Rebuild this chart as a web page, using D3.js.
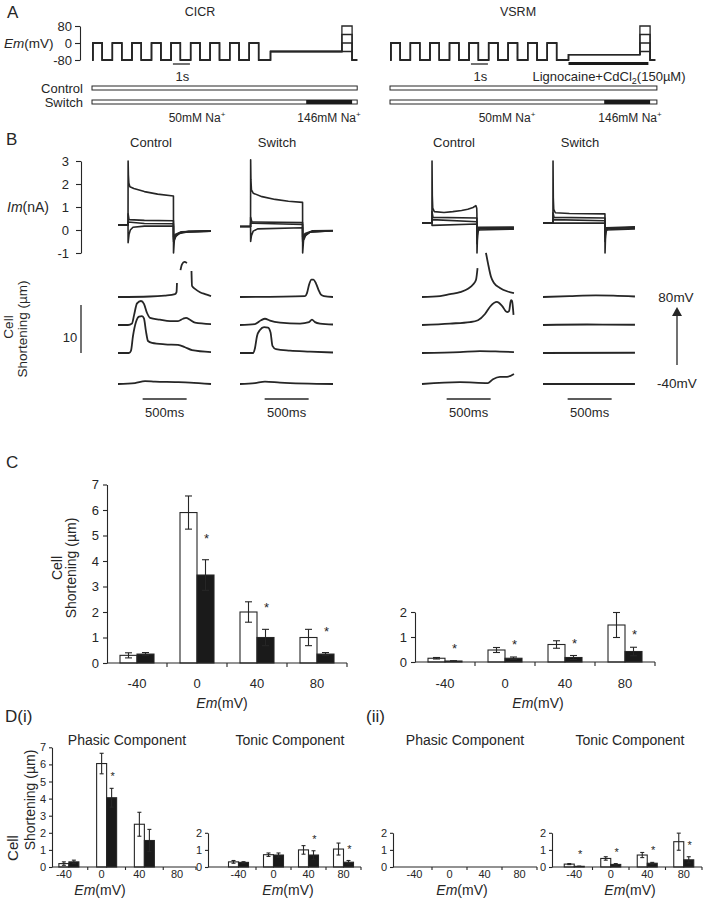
<!DOCTYPE html>
<html><head><meta charset="utf-8">
<script src="https://cdn.jsdelivr.net/npm/d3@7"></script>
<style>body{margin:0;background:#fff}</style>
</head><body><script>
// ================= DATA =================
// Panel A: stimulation protocol (time in s, Em in mV)
const condPulseOn = [0.05,1.2,2.35,3.5,4.65,5.8,6.95,8.1,9.25];
const condPulseDur = 0.55;
const protoTimes = [10.5, 14.7, 15.3, 15.6];      // hold start, test on, test off, end
const holdingEm = [-40, -55];                      // CICR, VSRM
const testEm = [-40, 0, 40, 80];
const emTicks = [-80, 0, 80];
const solutionBarEnd = [15.6, 15.7];
const switchWindow = [12.6, 15.3];
const drugWindow = [10.5, 15.2];
const oneSecond = [4.76, 5.76];

// Panel B: membrane currents (t in ms, I in nA)
const imTicks = [-1, 0, 1, 2, 3];
const cicrCtrlI = [
 [[0,0.22],[114,0.22],[115,3.0],[118,2.4],[123,2.05],[135,1.88],[180,1.8],[300,1.67],[450,1.56],[630,1.48],[631,-1.0],[640,-0.45],[660,-0.25],[700,-0.12],[800,-0.06],[1055,-0.05]],
 [[0,0.22],[114,0.22],[115,0.7],[125,0.45],[300,0.42],[630,0.4],[631,-0.5],[650,-0.3],[700,-0.15],[800,-0.07],[1055,-0.05]],
 [[0,0.22],[114,0.22],[115,0.35],[300,0.28],[630,0.27],[631,-0.4],[650,-0.25],[720,-0.1],[1055,-0.05]],
 [[0,0.22],[114,0.22],[115,-0.55],[125,-0.2],[140,0.0],[170,0.12],[300,0.17],[630,0.17],[631,-0.3],[650,-0.2],[720,-0.08],[1055,-0.04]]
];
const cicrSwI = [
 [[0,0.15],[120,0.15],[121,3.05],[124,2.2],[130,1.75],[150,1.6],[250,1.45],[400,1.33],[550,1.25],[711,1.2],[712,-1.0],[722,-0.45],[745,-0.25],[790,-0.1],[1057,-0.03]],
 [[0,0.15],[120,0.15],[121,0.55],[135,0.35],[711,0.32],[712,-0.5],[735,-0.25],[800,-0.08],[1057,-0.03]],
 [[0,0.15],[120,0.15],[121,0.3],[711,0.24],[712,-0.4],[740,-0.2],[820,-0.05],[1057,-0.03]],
 [[0,0.15],[120,0.15],[121,-0.5],[130,-0.25],[150,-0.05],[200,0.05],[711,0.1],[712,-0.3],[740,-0.15],[820,-0.04],[1057,-0.02]]
];
const vsrmCtrlI = [
 [[0,0.3],[113,0.3],[114,3.0],[117,1.5],[122,0.95],[140,0.8],[250,0.76],[350,0.8],[450,0.85],[520,0.9],[580,0.98],[612,1.06],[622,0.95],[624,0.7],[625,-1.0],[632,-0.1],[660,0.1],[1045,0.08]],
 [[0,0.3],[113,0.3],[114,0.8],[125,0.55],[624,0.52],[625,-0.6],[635,0.0],[1045,0.04]],
 [[0,0.3],[113,0.3],[114,0.45],[624,0.36],[625,-0.3],[640,0.05],[1045,0.1]],
 [[0,0.3],[113,0.3],[114,0.2],[624,0.26],[625,-0.2],[640,0.12],[1045,0.13]]
];
const vsrmSwI = [
 [[0,0.3],[113,0.3],[114,3.0],[117,1.4],[122,0.9],[140,0.75],[300,0.72],[704,0.7],[705,-1.0],[712,-0.1],[740,0.1],[1045,0.08]],
 [[0,0.3],[113,0.3],[114,0.75],[125,0.55],[704,0.52],[705,-0.5],[715,0.0],[1045,0.05]],
 [[0,0.3],[113,0.3],[114,0.45],[704,0.4],[705,-0.3],[720,0.05],[1045,0.12]],
 [[0,0.3],[113,0.3],[114,0.3],[704,0.3],[705,-0.2],[720,0.1],[1045,0.14]]
];

// Panel B: cell shortening (t in ms, shortening in µm), rows = +80, +40, 0, -40 mV
const cicrCtrlS = [
 [[0,0],[360,0.1],[530,0.3],[648,0.6],[665,1.0],[670,2.9],null,[710,5.6],[727,6.8],[755,7.3],[784,7.1],null,[835,5.4],[841,2.3],[875,1.7],[932,1.0],[989,0.6],[1057,0.2]],
 [[0,0],[114,0],[159,0.3],[182,2],[216,4.5],[261,5.0],[295,4.4],[330,2.5],[364,1.5],[477,1.1],[591,0.8],[682,0.8],[739,1.3],[773,1.5],[818,1.1],[875,0.5],[1057,0.2]],
 [[0,0],[125,0],[148,0.5],[170,3.5],[205,6.5],[239,7.6],[273,7.7],[295,7.2],[318,4.5],[341,2.5],[386,2.1],[534,1.8],[682,1.7],[761,1.2],[841,0.6],[1057,0.2]],
 [[0,0],[193,0.2],[307,0.6],[420,0.5],[648,0.4],[818,0.3],[1057,0]]
];
const cicrSwS = [
 [[0,0],[739,0.2],[761,0.8],[784,2.5],[812,3.6],[835,3.6],[864,2.8],[892,1.5],[920,0.5],[955,0.2],[1057,0]],
 [[0,0],[170,0.2],[239,1.0],[284,1.3],[341,0.9],[455,0.5],[682,0.3],[784,0.6],[818,1.1],[852,0.6],[909,0.3],[1057,0.1]],
 [[0,0],[148,0],[170,1.0],[193,3.5],[227,4.8],[273,5.4],[318,5.3],[347,4.3],[369,1.5],[409,0.8],[568,0.5],[795,0.3],[1057,0.1]],
 [[0,0],[170,0.2],[284,0.5],[455,0.3],[1057,0]]
];
const vsrmCtrlS = [
 [[0,0],[205,0.2],[318,0.6],[432,1.0],[523,1.7],[580,2.6],[614,3.6],[631,6.0],null,[727,9.2],[750,7.0],[784,4.2],[818,2.9],[886,1.9],[966,1.2],[1045,0.8]],
 [[0,0],[318,0.3],[545,0.6],[636,1.0],[716,2.3],[773,3.8],[852,4.8],[909,4.0],[966,2.7],[989,2.9],[1011,5.2],[1023,5.0],[1040,2.1]],
 [[0,0],[432,0.2],[659,0.4],[886,0.3],[1045,0.2]],
 [[0,0],[432,0.4],[750,0.2],[807,1.0],[886,1.5],[966,1.5],[1045,2.1]]
];
const vsrmSwS = [
 [[0,0],[300,0.2],[600,0.35],[800,0.3],[1045,0.1]],
 [[0,0],[500,0.1],[1045,0.05]],
 [[0,0],[1045,0.05]],
 [[0,0],[1045,0]]
];
const timeBar500 = [280, 780];

// Panel C & D: bar data
const emCats = ["-40", "0", "40", "80"];
const cTotalCICR = [0.3, 5.9, 2.0, 1.0];
const cTotalCICRErr = [0.1, 0.65, 0.4, 0.32];
const cTotalCICRSw = [0.35, 3.45, 1.0, 0.35];
const cTotalCICRSwErr = [0.06, 0.6, 0.32, 0.06];
const cTotalCICRSig = [false, true, true, true];

const cTotalVSRM = [0.15, 0.48, 0.7, 1.48];
const cTotalVSRMErr = [0.03, 0.1, 0.15, 0.5];
const cTotalVSRMSw = [0.04, 0.15, 0.18, 0.42];
const cTotalVSRMSwErr = [0.01, 0.05, 0.08, 0.17];
const cTotalVSRMSig = [true, true, true, true];

const dPhasicCICR = [0.2, 6.05, 2.5, 0];
const dPhasicCICRErr = [0.1, 0.6, 0.7, 0];
const dPhasicCICRSw = [0.3, 4.05, 1.55, 0];
const dPhasicCICRSwErr = [0.1, 0.55, 0.65, 0];
const dPhasicCICRSig = [false, true, false, false];

const dTonicCICR = [0.3, 0.72, 1.0, 1.05];
const dTonicCICRErr = [0.08, 0.1, 0.25, 0.35];
const dTonicCICRSw = [0.27, 0.7, 0.7, 0.28];
const dTonicCICRSwErr = [0.04, 0.12, 0.25, 0.1];
const dTonicCICRSig = [false, false, true, true];

const dPhasicVSRM = [0, 0, 0, 0];
const dPhasicVSRMErr = [0, 0, 0, 0];
const dPhasicVSRMSw = [0, 0, 0, 0];
const dPhasicVSRMSwErr = [0, 0, 0, 0];
const dPhasicVSRMSig = [false, false, false, false];

const dTonicVSRM = [0.17, 0.5, 0.7, 1.48];
const dTonicVSRMErr = [0.03, 0.1, 0.15, 0.5];
const dTonicVSRMSw = [0.04, 0.15, 0.22, 0.42];
const dTonicVSRMSwErr = [0.01, 0.05, 0.05, 0.18];
const dTonicVSRMSig = [true, true, true, true];

// ================= DRAWING =================
const FONT = '"Liberation Sans", Arial, Helvetica, sans-serif';
const INK = '#262626';
const svg = d3.select('body').append('svg').attr('width', 703).attr('height', 900)
  .style('font-family', FONT);
const plain = d => String(d);

function text(x, y, s, size, anchor = 'start', extra) {
  const t = svg.append('text').attr('x', x).attr('y', y).attr('font-size', size)
    .attr('text-anchor', anchor).attr('fill', INK).text(s);
  if (extra) extra(t);
  return t;
}
function emText(x, y, size, anchor = 'middle', name = 'Em', unit = '(mV)') {
  const t = svg.append('text').attr('x', x).attr('y', y).attr('font-size', size)
    .attr('text-anchor', anchor).attr('fill', INK);
  t.append('tspan').attr('font-style', 'italic').text(name);
  t.append('tspan').text(unit);
  return t;
}
function naText(x, y, conc) {
  const t = svg.append('text').attr('x', x).attr('y', y).attr('font-size', 12)
    .attr('text-anchor', 'middle').attr('fill', INK);
  t.append('tspan').text(conc + ' Na');
  t.append('tspan').attr('font-size', 8).attr('dy', -5).text('+');
}
function styleAxis(g, size) {
  g.attr('font-family', FONT).attr('font-size', size);
  g.selectAll('text').attr('fill', INK);
  g.selectAll('line').attr('stroke', INK).attr('stroke-width', 1.1);
  g.select('.domain').attr('stroke', INK).attr('stroke-width', 1.1);
}

// ---------- Panel A ----------
text(7, 18, 'A', 17);
const emY = d3.scaleLinear().domain([-80, 80]).range([60, 26]);
const aOrigins = [92, 390];
const aTitles = ['CICR', 'VSRM'];
const aTitleX = [200, 518];
const aLine = d3.line().x(d => d[0]).y(d => d[1]);

function protocolPoints(hold, vtest) {
  const p = [[0, -80]];
  condPulseOn.forEach(t => { p.push([t, -80], [t, 0], [t + condPulseDur, 0], [t + condPulseDur, -80]); });
  p.push([protoTimes[0], -80], [protoTimes[0], hold], [protoTimes[1], hold],
         [protoTimes[1], vtest], [protoTimes[2], vtest], [protoTimes[2], -80], [protoTimes[3], -80]);
  return p;
}

aOrigins.forEach((ox, k) => {
  const x = d3.scaleLinear().domain([0, 1]).range([ox, ox + 17]);
  text(aTitleX[k], 16, aTitles[k], 12.5, 'middle');
  testEm.forEach(v => {
    svg.append('path').attr('d', aLine(protocolPoints(holdingEm[k], v).map(d => [x(d[0]), emY(d[1])])))
      .attr('fill', 'none').attr('stroke', INK).attr('stroke-width', 1.3);
  });
  svg.append('line').attr('x1', x(oneSecond[0])).attr('x2', x(oneSecond[1])).attr('y1', 64).attr('y2', 64)
    .attr('stroke', INK).attr('stroke-width', 1.3);
  text((x(oneSecond[0]) + x(oneSecond[1])) / 2 + 1, 81, '1s', 13, 'middle');
  svg.append('rect').attr('x', x(0)).attr('y', 86).attr('width', x(solutionBarEnd[k]) - x(0)).attr('height', 4)
    .attr('fill', '#fff').attr('stroke', INK).attr('stroke-width', 1);
  svg.append('rect').attr('x', x(0)).attr('y', 100).attr('width', x(solutionBarEnd[k]) - x(0)).attr('height', 4)
    .attr('fill', '#fff').attr('stroke', INK).attr('stroke-width', 1);
  svg.append('rect').attr('x', x(switchWindow[0])).attr('y', 100).attr('width', x(switchWindow[1]) - x(switchWindow[0])).attr('height', 4)
    .attr('fill', '#1a1a1a');
  if (k === 1) {
    svg.append('rect').attr('x', x(drugWindow[0])).attr('y', 62).attr('width', x(drugWindow[1]) - x(drugWindow[0])).attr('height', 3)
      .attr('fill', '#1a1a1a');
    const t = svg.append('text').attr('x', 609).attr('y', 81).attr('font-size', 13).attr('text-anchor', 'middle').attr('fill', INK);
    t.append('tspan').text('Lignocaine+CdCl');
    t.append('tspan').attr('font-size', 9).attr('dy', 3).text('2');
    t.append('tspan').attr('dy', -3).text('(150\u00b5M)');
  }
});
naText(197, 122, '50mM'); naText(329, 122, '146mM');
naText(507, 122, '50mM'); naText(630, 122, '146mM');
text(83, 93, 'Control', 13, 'end');
text(83, 107, 'Switch', 13, 'end');
const emAxis = svg.append('g').attr('transform', 'translate(80,0)')
  .call(d3.axisLeft(emY).tickValues(emTicks).tickFormat(plain).tickSize(5).tickSizeOuter(0).tickPadding(3));
styleAxis(emAxis, 13);
emText(4, 48, 13.5, 'start');

// ---------- Panel B ----------
text(6, 145, 'B', 17);
const bColX = [118, 240, 422, 543];
const bColTitleX = [151, 277, 454, 580];
['Control', 'Switch', 'Control', 'Switch'].forEach((s, i) => text(bColTitleX[i], 147, s, 13, 'middle'));
const imY = d3.scaleLinear().domain([-1, 3]).range([253, 161]);
const imAxis = svg.append('g').attr('transform', 'translate(81,0)')
  .call(d3.axisLeft(imY).tickValues(imTicks).tickFormat(plain).tickSize(5).tickSizeOuter(0).tickPadding(7));
styleAxis(imAxis, 13);
emText(7, 212, 14, 'start', 'Im', '(nA)');

const currents = [cicrCtrlI, cicrSwI, vsrmCtrlI, vsrmSwI];
const shortenings = [cicrCtrlS, cicrSwS, vsrmCtrlS, vsrmSwS];
const rowBase = [297, 325, 353, 384];
bColX.forEach((x0, c) => {
  const tx = d3.scaleLinear().domain([0, 1000]).range([x0, x0 + 88]);
  const lineI = d3.line().x(d => tx(d[0])).y(d => imY(d[1]));
  currents[c].forEach(tr => {
    svg.append('path').attr('d', lineI(tr)).attr('fill', 'none').attr('stroke', INK).attr('stroke-width', 1.6)
      .attr('stroke-linejoin', 'round');
  });
  shortenings[c].forEach((tr, r) => {
    const sy = d3.scaleLinear().domain([0, 10]).range([rowBase[r], rowBase[r] - 48]);
    const lineS = d3.line().defined(d => d !== null).x(d => tx(d[0])).y(d => sy(d[1])).curve(d3.curveMonotoneX);
    svg.append('path').attr('d', lineS(tr)).attr('fill', 'none').attr('stroke', INK).attr('stroke-width', 1.8)
      .attr('stroke-linejoin', 'round');
  });
  svg.append('line').attr('x1', tx(timeBar500[0])).attr('x2', tx(timeBar500[1])).attr('y1', 399).attr('y2', 399)
    .attr('stroke', INK).attr('stroke-width', 1.3);
  text((tx(timeBar500[0]) + tx(timeBar500[1])) / 2, 417, '500ms', 13, 'middle');
});
const sScale = d3.scaleLinear().domain([0, 10]).range([rowBase[2], rowBase[2] - 48]);
svg.append('line').attr('x1', 81).attr('x2', 81).attr('y1', sScale(0)).attr('y2', sScale(10))
  .attr('stroke', INK).attr('stroke-width', 1.3);
text(70, 342, '10', 13, 'middle');
text(0, 0, 'Cell', 13.5, 'middle', t => t.attr('transform', 'translate(13,327) rotate(-90)'));
text(0, 0, 'Shortening (\u00b5m)', 13.5, 'middle', t => t.attr('transform', 'translate(27,329) rotate(-90)'));
svg.append('line').attr('x1', 677).attr('x2', 677).attr('y1', 365).attr('y2', 314).attr('stroke', INK).attr('stroke-width', 1.3);
svg.append('path').attr('d', 'M672,316 L682,316 L677,307 Z').attr('fill', INK);
text(676, 302, '80mV', 13.5, 'middle');
text(677, 388, '-40mV', 13.5, 'middle');

// ---------- Bar charts ----------
function barChart(o) {
  const y = d3.scaleLinear().domain([0, o.ymax]).range([o.y0, o.y0 - o.ymax * o.ppu]);
  const x = d3.scaleBand().domain(emCats).range([o.xr0, o.xr1]);
  const shift = o.shift || 0;
  const g = svg.append('g');
  const ax = g.append('g').attr('transform', `translate(${o.yAxisX},0)`)
    .call(d3.axisLeft(y).ticks(o.ymax).tickSize(o.tick).tickSizeOuter(0).tickPadding(o.pad).tickFormat(plain));
  styleAxis(ax, o.fs);
  const groups = [[o.ctrl, o.ctrlErr, '#fff', -1], [o.sw, o.swErr, '#1a1a1a', 0]];
  groups.forEach(([vals, errs, fill, off]) => {
    emCats.forEach((c, i) => {
      if (vals[i] <= 0) return;
      const cx = x(c) + x.bandwidth() / 2 + shift + off * o.bw;
      g.append('rect').attr('x', cx).attr('y', y(vals[i])).attr('width', o.bw).attr('height', y(0) - y(vals[i]))
        .attr('fill', fill).attr('stroke', INK).attr('stroke-width', 1.1);
      const ex = cx + o.bw / 2;
      const top = y(vals[i] + errs[i]), bot = y(vals[i] - errs[i]);
      g.append('line').attr('x1', ex).attr('x2', ex).attr('y1', top).attr('y2', bot).attr('stroke', INK).attr('stroke-width', 1.1);
      g.append('line').attr('x1', ex - o.cap / 2).attr('x2', ex + o.cap / 2).attr('y1', top).attr('y2', top).attr('stroke', INK).attr('stroke-width', 1.1);
      g.append('line').attr('x1', ex - o.cap / 2).attr('x2', ex + o.cap / 2).attr('y1', bot).attr('y2', bot).attr('stroke', INK).attr('stroke-width', 1.1);
    });
  });
  emCats.forEach((c, i) => {
    if (!o.sig[i]) return;
    const ex = x(c) + x.bandwidth() / 2 + shift + o.bw / 2 + 1;
    g.append('text').attr('x', ex).attr('y', y(o.sw[i] + o.swErr[i]) - o.starOff).attr('font-size', o.fs)
      .attr('text-anchor', 'middle').attr('fill', INK).text('*');
  });
  g.append('line').attr('x1', o.yAxisX).attr('x2', o.xr1).attr('y1', y(0)).attr('y2', y(0)).attr('stroke', INK).attr('stroke-width', 1.1);
  const seps = emCats.slice(1).map(c => x(c) + shift).concat([o.xr1]);
  seps.forEach(s => g.append('line').attr('x1', s).attr('x2', s).attr('y1', y(0)).attr('y2', y(0) + o.tick)
    .attr('stroke', INK).attr('stroke-width', 1.1));
  emCats.forEach(c => g.append('text').attr('x', x(c) + x.bandwidth() / 2).attr('y', o.xLabY).attr('font-size', o.fs)
    .attr('text-anchor', 'middle').attr('fill', INK).text(c));
  emText(o.emX, o.emY, o.emFs, 'middle');
}

// Panel C
text(6, 468, 'C', 17);
text(0, 0, 'Cell', 14, 'middle', t => t.attr('transform', 'translate(62,568) rotate(-90)'));
text(0, 0, 'Shortening (\u00b5m)', 14, 'middle', t => t.attr('transform', 'translate(76,568) rotate(-90)'));
barChart({yAxisX: 107, xr0: 107, xr1: 347, y0: 663, ppu: 25.5, ymax: 7, tick: 4, pad: 4, fs: 13, bw: 17, cap: 7,
  ctrl: cTotalCICR, ctrlErr: cTotalCICRErr, sw: cTotalCICRSw, swErr: cTotalCICRSwErr, sig: cTotalCICRSig,
  starOff: 17, xLabY: 688, emX: 222, emY: 708, emFs: 14});
barChart({yAxisX: 415, xr0: 415, xr1: 655, y0: 662, ppu: 25, ymax: 2, tick: 4, pad: 4, fs: 13, bw: 17, cap: 7,
  ctrl: cTotalVSRM, ctrlErr: cTotalVSRMErr, sw: cTotalVSRMSw, swErr: cTotalVSRMSwErr, sig: cTotalVSRMSig,
  starOff: 8, xLabY: 688, emX: 538, emY: 708, emFs: 14});

// Panel D
text(5, 722, 'D(i)', 17);
text(366, 722, '(ii)', 17);
text(127, 745, 'Phasic Component', 14, 'middle');
text(290, 745, 'Tonic Component', 14, 'middle');
text(465, 745, 'Phasic Component', 14, 'middle');
text(630, 745, 'Tonic Component', 14, 'middle');
text(0, 0, 'Cell', 15, 'middle', t => t.attr('transform', 'translate(18,848) rotate(-90)'));
text(0, 0, 'Shortening (\u00b5m)', 14, 'middle', t => t.attr('transform', 'translate(35,800) rotate(-90)'));
const dCommon = {y0: 867, ppu: 17.1, tick: 3, pad: 3, fs: 11, bw: 10, cap: 4, starOff: 8, xLabY: 878, emY: 895, emFs: 14};
barChart(Object.assign({}, dCommon, {yAxisX: 52, xr0: 45, xr1: 196, shift: 5, ymax: 7,
  ctrl: dPhasicCICR, ctrlErr: dPhasicCICRErr, sw: dPhasicCICRSw, swErr: dPhasicCICRSwErr, sig: dPhasicCICRSig, emX: 100}));
barChart(Object.assign({}, dCommon, {yAxisX: 208, xr0: 221, xr1: 361, ymax: 2,
  ctrl: dTonicCICR, ctrlErr: dTonicCICRErr, sw: dTonicCICRSw, swErr: dTonicCICRSwErr, sig: dTonicCICRSig, emX: 288}));
barChart(Object.assign({}, dCommon, {yAxisX: 393, xr0: 397, xr1: 537, ymax: 2,
  ctrl: dPhasicVSRM, ctrlErr: dPhasicVSRMErr, sw: dPhasicVSRMSw, swErr: dPhasicVSRMSwErr, sig: dPhasicVSRMSig, emX: 462}));
barChart(Object.assign({}, dCommon, {yAxisX: 552, xr0: 556, xr1: 702, ymax: 2,
  ctrl: dTonicVSRM, ctrlErr: dTonicVSRMErr, sw: dTonicVSRMSw, swErr: dTonicVSRMSwErr, sig: dTonicVSRMSig, emX: 630}));
</script></body></html>
